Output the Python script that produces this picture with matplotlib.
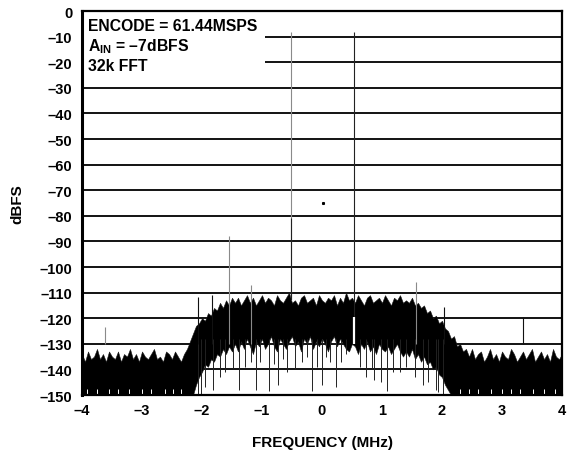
import numpy as np
import matplotlib.pyplot as plt
from matplotlib.patches import Rectangle

plt.rcParams['font.family'] = ['Liberation Sans', 'DejaVu Sans']
plt.rcParams['font.weight'] = 'bold'
plt.rcParams['mathtext.fontset'] = 'custom'
plt.rcParams['mathtext.rm'] = 'Liberation Sans:bold'
plt.rcParams['mathtext.bf'] = 'Liberation Sans:bold'

# grid for the ragged edges of the noise floor (MHz)
freq = np.arange(-80, 81) / 20

# upper edge of the dense noise floor (dBFS)
noise_top = [-134, -137, -133, -136, -135, -132, -136, -134, -137, -133,
             -135, -136, -133, -137, -134, -135, -132, -136, -134, -137,
             -133, -135, -136, -134, -132, -136, -135, -137, -133, -134,
             -136, -133, -135, -137, -134,
             -132, -129, -126, -123, -122, -120, -121, -118, -119, -116,
             -117, -114, -116, -113, -115, -112, -114, -112, -115, -113,
             -111, -114, -112, -115, -113, -111, -114, -112, -113, -115,
             -111, -113, -114, -112, -110, -114, -113, -115, -112, -111,
             -114, -113, -112, -115, -111, -113, -114, -112, -113, -111,
             -115, -112, -114, -110, -113, -112, -114, -111, -113, -115,
             -112, -111, -114, -113, -112, -114, -111, -113, -115, -112,
             -113, -111, -114, -113,
             -114, -112, -115, -114, -116, -115, -118, -117, -120, -119,
             -122, -121, -124, -125, -128, -127, -131, -130, -133, -132,
             -135, -132, -136, -134, -133, -137, -135, -132, -136, -134,
             -137, -133, -135, -136, -132, -134, -137, -135, -133, -136,
             -134, -132, -137, -135, -133, -136, -134, -137, -132, -135,
             -136, -134]

# lower edge of the solid black part
noise_bottom = [-150] * 38 + \
    [-146, -143, -141, -138, -139, -136, -137, -134, -135, -132,
     -134, -131, -133,
     -130, -133, -129, -132, -128, -131, -134, -129, -131, -128,
     -132, -130, -127, -131, -133, -128, -130, -132, -129, -127,
     -131, -129, -133, -128, -130, -127, -132, -129, -131, -128,
     -130, -133, -129, -127, -131, -128, -130, -132, -133, -130,
     -131, -134, -130, -132, -129, -133, -131, -134, -130, -132,
     -133, -131, -134, -132, -130, -133, -135,
     -133, -135, -132, -136, -134, -137, -135, -138, -137, -140,
     -139, -142, -143, -146, -148] + [-150] * 38

# the two input tones
tone_freq = [-0.52, 0.53]
tone_level = [-8.3, -8.3]

# spurs sticking out above the floor
spur_freq = [-3.62, -2.07, -1.83, -1.55, -1.19, 1.56, 2.03, 3.35]
spur_level = [-123.5, -111.8, -111, -88, -107, -106, -115.5, -119.5]
spur_gray = [True, False, False, True, True, True, False, False]

# deep bins dropping below the floor
dip_freq = [-2.07, -2.02, -1.95, -1.81, -1.70, -1.62, -1.48, -1.38, -1.28,
            -1.19, -1.10, -1.03, -0.89, -0.80, -0.73, -0.65, -0.59, -0.45,
            -0.34, -0.25, -0.17, -0.09, 0.00, 0.06, 0.13, 0.24, 0.32, 0.40,
            0.63, 0.74, 0.83, 0.86, 0.98, 1.08, 1.19, 1.30, 1.40, 1.55,
            1.69, 1.77, 1.90, 1.94, 2.02]
dip_level = [-150, -150, -147, -148, -143, -141, -140, -148, -139,
             -137, -148, -137, -148.5, -138, -146, -136, -141, -140,
             -137, -135, -148.5, -139, -146, -135, -137, -147, -137, -134,
             -139, -143, -140, -144, -145, -148.5, -141, -141, -139, -143,
             -146, -145, -148, -149, -150]

# small white gaps at the very bottom of the out-of-band floor
gap_freq = [-3.92, -3.75, -3.55, -3.40, -3.22, -3.00, -2.85, -2.62, -2.48,
            -2.35, 2.30, 2.45, 2.60, 2.82, 3.00, 3.15, 3.30, 3.52, 3.70, 3.88]

y_ticks = list(range(0, -151, -10))
y_labels = ['0'] + ['\u2013%d' % -v for v in y_ticks[1:]]
x_ticks = list(range(-4, 5))
x_labels = [('\u2013%d' % -v) if v < 0 else str(v) for v in x_ticks]

fig = plt.figure(figsize=(5.71, 4.56), dpi=100)
ax = fig.add_axes([82 / 571, 1 - 396 / 456, 480 / 571, 384 / 456])

ax.set_xlim(-4, 4)
ax.set_ylim(-150, 0)

for v in y_ticks:
    ax.axhline(v, color='black', lw=1.3, zorder=1)

# white block behind the annotation
ax.add_patch(Rectangle((-4, -25), 3.05, 25, facecolor='white',
                       edgecolor='none', zorder=1.5))

ax.fill_between(freq, noise_bottom, noise_top, facecolor='black',
                edgecolor='#1a1a1a', lw=0.4, zorder=2)
ax.vlines(dip_freq, dip_level, -128, color='#222222', lw=0.7, zorder=2)
ax.vlines(gap_freq, -150, -147.5, color='white', lw=0.7, zorder=2.1)

for f, lv, g in zip(spur_freq, spur_level, spur_gray):
    ax.vlines(f, -130, lv, color='#8a8a8a' if g else '#111111', lw=0.8,
              zorder=2.2)

ax.vlines(tone_freq[0], -113, tone_level[0], color='#8a8a8a', lw=0.8, zorder=2.3)
ax.vlines(tone_freq[0], -113, -81, color='#222222', lw=0.8, zorder=2.4)
ax.vlines(tone_freq[1], -119.5, tone_level[1], color='#222222', lw=0.8, zorder=2.3)
ax.vlines(tone_freq[1], -130, -119.5, color='white', lw=1.6, zorder=2.4)
ax.plot([0.02], [-75], marker='s', ms=1.2, color='black', lw=0)

ax.set_yticks(y_ticks)
ax.set_yticklabels(y_labels)
ax.set_xticks(x_ticks)
ax.set_xticklabels(x_labels)
ax.tick_params(length=0, labelsize=10.5, pad=7)
ax.tick_params(axis='x', pad=6)
for s in ax.spines.values():
    s.set_linewidth(1.6)
    s.set_zorder(3)
ax.spines['left'].set_linewidth(2.2)

ax.set_xlabel('FREQUENCY (MHz)', fontsize=11, fontweight='bold', labelpad=13)
ax.set_ylabel('dBFS', fontsize=11, fontweight='bold', labelpad=11)

ax.text(0.0125, 0.961, 'ENCODE = 61.44MSPS', transform=ax.transAxes,
        fontsize=11.3, va='center', zorder=4)
ax.text(0.0125, 0.909, 'A$_{\\mathregular{IN}}$ = \u20137dBFS',
        transform=ax.transAxes, fontsize=11.3, va='center', zorder=4)
ax.text(0.0125, 0.857, '32k FFT', transform=ax.transAxes,
        fontsize=11.3, va='center', zorder=4)

fig.savefig('out.png', dpi=100)
